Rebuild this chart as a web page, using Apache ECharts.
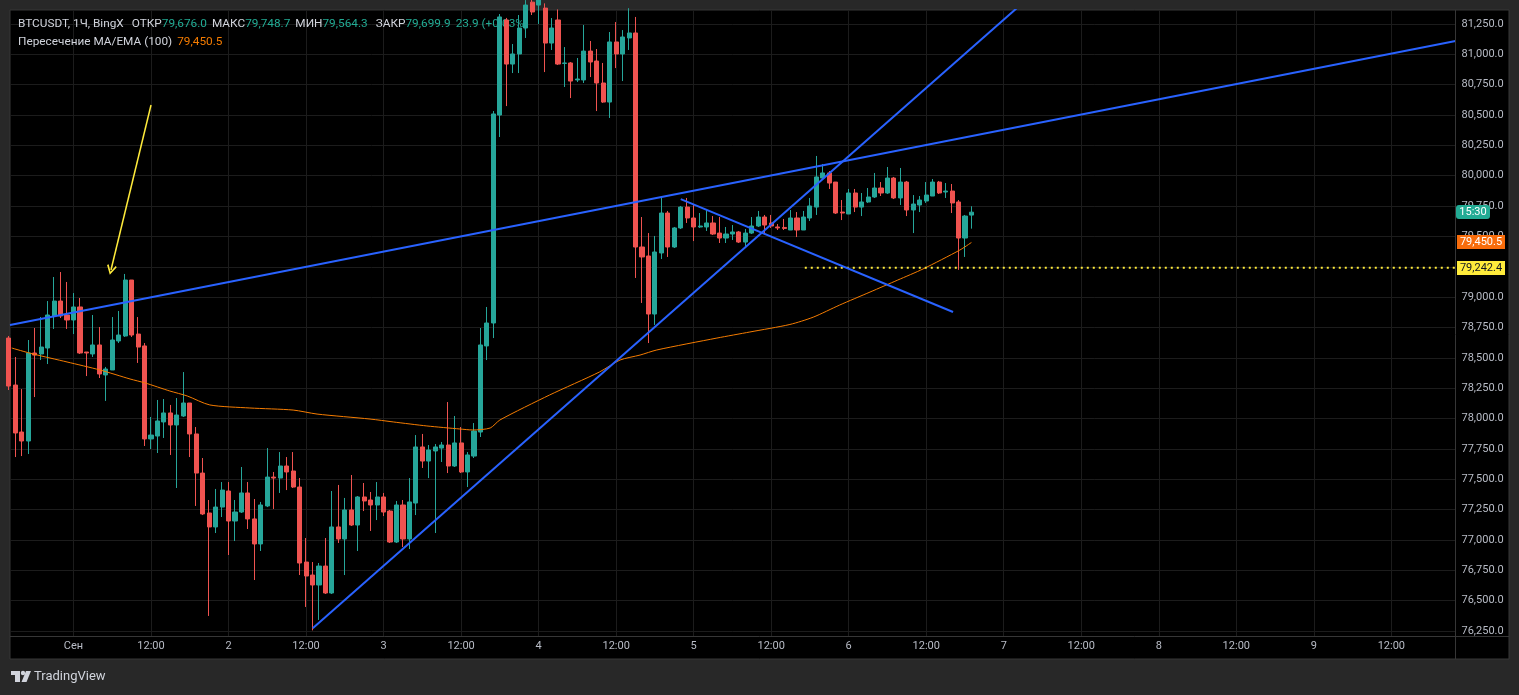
<!DOCTYPE html>
<html><head><meta charset="utf-8">
<script src="https://cdn.jsdelivr.net/npm/echarts@6/dist/echarts.min.js"></script>
<style>html,body{margin:0;padding:0;background:#282828;}#c{width:1519px;height:695px;}</style>
</head><body><div id="c"></div>
<script>
// ---- data (hours counted from 1 Sep 00:00, 1h candles) ----
const firstHour = -10;
const opens = [78663,78276,77889,77815,78540,78532,78581,78845,78968,78853,
78812,78919,78548,78532,78606,78359,78400,78639,78680,79141,
78696,78598,77832,77856,77972,78046,77947,78021,78128,77873,
77551,77222,77107,77271,77403,77156,77230,77387,77173,76967,
77280,77518,77510,77609,77568,77436,76818,76711,76629,76785,
76563,77107,77008,77247,77123,77354,77329,77288,77354,77238,
76983,77288,77008,77304,77766,77650,77733,77757,77782,77609,
77799,77560,77691,77889,78598,78787,80500,81283,80920,81003,
81217,81430,81406,81381,81093,81283,80925,80929,80789,80789,
81027,80945,80764,80607,81102,81003,81135,81176,79413,79339,
78861,79364,79693,79413,79570,79742,79652,79578,79578,79611,
79528,79487,79520,79537,79454,79528,79586,79660,79611,79578,
79574,79553,79652,79553,79652,79742,79981,80023,79948,79701,
79685,79858,79742,79784,79825,79899,79858,79981,79817,79948,
79718,79759,79792,79833,79948,79866,79874,79784,79487,79676.0];
const closes = [78268,77881,77815,78540,78523,78589,78853,78968,78845,78812,
78919,78540,78540,78606,78367,78408,78647,78688,79141,78688,
78589,77832,77864,77980,78046,77947,78029,78128,77873,77551,
77214,77107,77271,77411,77156,77230,77387,77173,76967,77288,
77518,77510,77609,77560,77436,76810,76703,76629,76785,76563,
77107,77008,77247,77123,77354,77321,77288,77354,77230,76983,
77288,77008,77313,77766,77650,77741,77766,77782,77609,77799,
77560,77700,77897,78606,78787,80509,81308,80920,81003,81217,
81406,81349,81464,81093,81217,80920,80929,80780,80797,81027,
80937,80764,80607,81102,81003,81143,81176,79413,79331,78861,
79372,79693,79413,79570,79742,79652,79578,79586,79611,79520,
79487,79520,79537,79454,79528,79586,79660,79594,79586,79570,
79566,79652,79553,79660,79751,79990,80023,79940,79693,79693,
79858,79742,79784,79825,79899,79858,79981,79817,79948,79718,
79767,79800,79841,79948,79858,79874,79776,79487,79668,79699.9];
const lows = [78235,77683,77691,77708,78177,78482,78449,78738,78828,78738,
78696,78532,78350,78507,78334,78145,78400,78622,78672,78672,
78458,77774,77749,77716,77840,77700,77428,78013,77683,77280,
77205,76374,77057,77189,76876,76991,77222,77090,76670,76909,
77271,77255,77387,77411,77428,76711,76448,76255,76341,76555,
76555,76975,76711,77115,76909,77238,77074,77164,77197,76975,
76975,76942,76925,77205,77593,77510,77057,77642,77551,77601,
77551,77436,77675,77848,78482,78663,80319,80574,80846,80846,
81135,81324,81250,80854,81036,80912,80731,80640,80772,80764,
80813,80533,80600,80476,80887,80780,81036,79158,78952,78622,
78771,79314,79331,79405,79561,79611,79462,79570,79545,79512,
79446,79446,79471,79446,79405,79520,79578,79528,79570,79553,
79553,79553,79495,79553,79627,79677,79965,79891,79685,79635,
79685,79701,79668,79776,79817,79833,79850,79808,79759,79668,
79528,79701,79776,79833,79850,79817,79693,79225,79331,79564.3];
const highs = [78680,78507,78243,78647,78746,78836,78968,79166,79207,79125,
79034,78993,78548,78853,78754,78425,78836,78886,79191,79141,
78836,78622,78013,78153,78161,78112,78169,78383,78128,77930,
77675,77329,77420,77477,77477,77329,77601,77477,77337,77313,
77757,77560,77724,77683,77724,77510,77016,76818,76810,77016,
77403,77453,77346,77535,77362,77469,77395,77477,77387,77247,
77321,77329,77510,77864,77873,77782,77790,77807,78136,78021,
77930,77724,77963,78746,78919,80533,81332,81300,81085,81324,
81447,81472,81480,81420,81299,81370,81060,80937,80970,81242,
81110,81044,80929,81184,81266,81200,81380,81308,79660,79528,
79504,79825,79710,79578,79751,79817,79767,79693,79718,79668,
79660,79578,79594,79545,79561,79660,79710,79677,79677,79602,
79644,79718,79701,79710,79817,80163,80097,80039,79948,79800,
79891,79891,79858,79899,80023,79948,80072,79990,80064,79957,
79841,79833,79948,79973,79957,79940,79932,79800,79677,79748.7];

// MA/EMA (100) line, read at sampled hours
const maHours  = [-9.57,-6.27,-1.0,4.1,8.75,11.1,14.9,17.6,21.1,27.3,34.0,37.7,45.9,49.5,54.7,59.8,61.8,64.5,66.0,73.7,81.4,84.6,87.7,90.3,99.6,104.7,110.9,114.5,118.6,123.3,127.6,131.5,137.2,139.0];
const maValues = [78581,78532,78466,78400,78326,78293,78227,78186,78112,78087,78070,78037,77996,77972,77939,77914,77906,77922,77988,78194,78383,78482,78523,78565,78663,78713,78775,78835,78935,79042,79141,79232,79388,79450.5];

// drawn trend lines: [[hour, price], [hour, price]]
const trendLines = [
  [[-9.83, 78771], [213.93, 81110]],
  [[37.03, 76272], [146.05, 81382]],
  [[94.0, 79808], [136.15, 78878]]
];
const arrowLine = [[12.0, 80583], [5.8, 79224]];
const levelPrice = 79242.4;
const levelStartHour = 113.2;

const timeTickHours  = [0,12,24,36,48,60,72,84,96,108,120,132,144,156,168,180,192,204];
const timeTickLabels = ['Сен','12:00','2','12:00','3','12:00','4','12:00','5','12:00','6','12:00','7','12:00','8','12:00','9','12:00'];
const priceTicks = [];
for (let p = 76250; p <= 81250; p += 250) priceTicks.push(p);

const symbolText = 'BTCUSDT, 1Ч, BingX';
const indicatorName = 'Пересечение MA/EMA (100)';
const countdownLabel = '15:30';
const changePct = '(+0.03%)';

// ---- styles ----
const UP = '#26a69a', DOWN = '#ef5350', GRIDC = '#1c1c1c', TXT = '#b8bcc6';
const FONT = 'Roboto, "Noto Sans", sans-serif';
const X_MIN = -9.83, X_MAX = 213.93, Y_MIN = 76208.8, Y_MAX = 81365.3;

const fmt = v => Number(v).toLocaleString('en-US', {minimumFractionDigits: 1, maximumFractionDigits: 1});

const chart = echarts.init(document.getElementById('c'), null, {renderer: 'canvas', width: 1519, height: 695});

const candleData = opens.map((o, i) => [firstHour + i, o, closes[i], lows[i], highs[i]]);
const series = [
  {
    type: 'candlestick', data: candleData, barWidth: 4.6, z: 3,
    itemStyle: {color: UP, color0: DOWN, borderColor: UP, borderColor0: DOWN, borderWidth: 1},
    emphasis: {disabled: true}
  },
  {
    type: 'line', data: maHours.map((h, i) => [h, maValues[i]]), showSymbol: false, smooth: 0.25, z: 4,
    lineStyle: {color: '#f57c00', width: 1}, emphasis: {disabled: true}
  },
  {
    type: 'line', data: [[levelStartHour, levelPrice], [X_MAX, levelPrice]], showSymbol: false, z: 4,
    lineStyle: {color: '#ffeb3b', width: 2, type: [2, 4]}
  }
];
trendLines.forEach(tl => series.push({
  type: 'line', data: tl, showSymbol: false, z: 5, clip: true,
  lineStyle: {color: '#2962ff', width: 2}
}));
series.push({
  type: 'lines', coordinateSystem: 'cartesian2d', z: 6,
  symbol: ['none', 'path://M5,0 L10,9 L8.6,10 L5,3.2 L1.4,10 L0,9 Z'], symbolSize: [13, 10],
  lineStyle: {color: '#ffeb3b', width: 1.5, opacity: 1},
  data: [{coords: arrowLine}]
});

const option = {
  animation: false,
  backgroundColor: '#282828',
  grid: {left: 10, right: 63.5, top: 10, bottom: 59, containLabel: false},
  xAxis: {
    type: 'value', min: X_MIN, max: X_MAX,
    axisLine: {show: false},
    axisTick: {show: false, customValues: timeTickHours},
    axisLabel: {customValues: timeTickHours, formatter: v => timeTickLabels[timeTickHours.indexOf(v)], color: TXT, fontSize: 11, fontFamily: FONT, margin: 5},
    splitLine: {show: true, lineStyle: {color: GRIDC, width: 1}}
  },
  yAxis: {
    type: 'value', position: 'right', min: Y_MIN, max: Y_MAX, scale: true,
    axisLine: {show: false},
    axisTick: {show: false, customValues: priceTicks},
    axisLabel: {customValues: priceTicks, formatter: v => fmt(v), color: TXT, fontSize: 11, fontFamily: FONT, margin: 6},
    splitLine: {show: true, lineStyle: {color: GRIDC, width: 1}}
  },
  series: series
};
chart.setOption(option);

const yOf = v => chart.convertToPixel({gridIndex: 0}, [X_MAX, v])[1];
function tag(v, text, bg, fg, x, w, r) {
  const y = yOf(v);
  return {
    type: 'group', z: 100, children: [
      {type: 'rect', shape: {x: x, y: Math.round(y) - 7, width: w, height: 14, r: r}, style: {fill: bg}, z: 100},
      {type: 'text', x: x + w / 2, y: Math.round(y), z: 101, style: {text: text, fill: fg, font: '11px ' + FONT, textAlign: 'center', textVerticalAlign: 'middle'}}
    ]
  };
}
const lastClose = closes[closes.length - 1];
const lastOpen = opens[opens.length - 1];
const lastMa = maValues[maValues.length - 1];

const FS = 11.8;
const legendRich = {
  a: {fill: '#d1d4dc', fontSize: FS, fontFamily: FONT},
  v: {fill: '#22ab94', fontSize: FS, fontFamily: FONT},
  o: {fill: '#f57c00', fontSize: FS, fontFamily: FONT},
  g: {width: 8, fontSize: FS},
  s: {width: 5, fontSize: FS}
};
const line1 = '{a|' + symbolText + '}{g| }{a|ОТКР}{v|' + fmt(lastOpen) + '}{s| }{a|МАКС}{v|' + fmt(highs[highs.length - 1]) +
  '}{s| }{a|МИН}{v|' + fmt(lows[lows.length - 1]) + '}{g| }{a|ЗАКР}{v|' + fmt(lastClose) + '}{s| }{v|' +
  (lastClose - lastOpen).toFixed(1) + ' ' + changePct + '}';
const line2 = '{a|' + indicatorName + '}{s| }{o|' + fmt(lastMa) + '}';

chart.setOption({
  graphic: [
    {type: 'rect', z: -10, shape: {x: 10, y: 10, width: 1499, height: 649}, style: {fill: '#000000', stroke: '#363636', lineWidth: 1}},
    {type: 'line', z: 50, shape: {x1: 1455.5, y1: 10, x2: 1455.5, y2: 659}, style: {stroke: '#363636', lineWidth: 1}},
    {type: 'line', z: 50, shape: {x1: 10, y1: 636.5, x2: 1509, y2: 636.5}, style: {stroke: '#363636', lineWidth: 1}},
    {type: 'text', z: 1, x: 18, y: 24, style: {text: line1, rich: legendRich, textVerticalAlign: 'middle'}},
    {type: 'text', z: 1, x: 18, y: 42, style: {text: line2, rich: legendRich, textVerticalAlign: 'middle'}},
    tag(lastClose, countdownLabel, '#22ab94', '#ffffff', 1456, 34, 3),
    tag(lastMa, fmt(lastMa), '#f86c0b', '#ffffff', 1457, 48, 0),
    tag(levelPrice, fmt(levelPrice), '#ffeb3b', '#131722', 1457, 48, 0),
    {type: 'group', z: 10, children: [
      {type: 'rect', shape: {x: 11, y: 671, width: 9, height: 4}, style: {fill: '#d1d4dc'}},
      {type: 'rect', shape: {x: 15, y: 671, width: 5, height: 11}, style: {fill: '#d1d4dc'}},
      {type: 'circle', shape: {cx: 23, cy: 673, r: 2.2}, style: {fill: '#d1d4dc'}},
      {type: 'polygon', shape: {points: [[26, 671], [31, 671], [26.5, 682], [21.5, 682]]}, style: {fill: '#d1d4dc'}},
      {type: 'text', x: 34, y: 677, style: {text: 'TradingView', fill: '#d1d4dc', font: '13px ' + FONT, textVerticalAlign: 'middle'}}
    ]}
  ]
});
</script></body></html>
